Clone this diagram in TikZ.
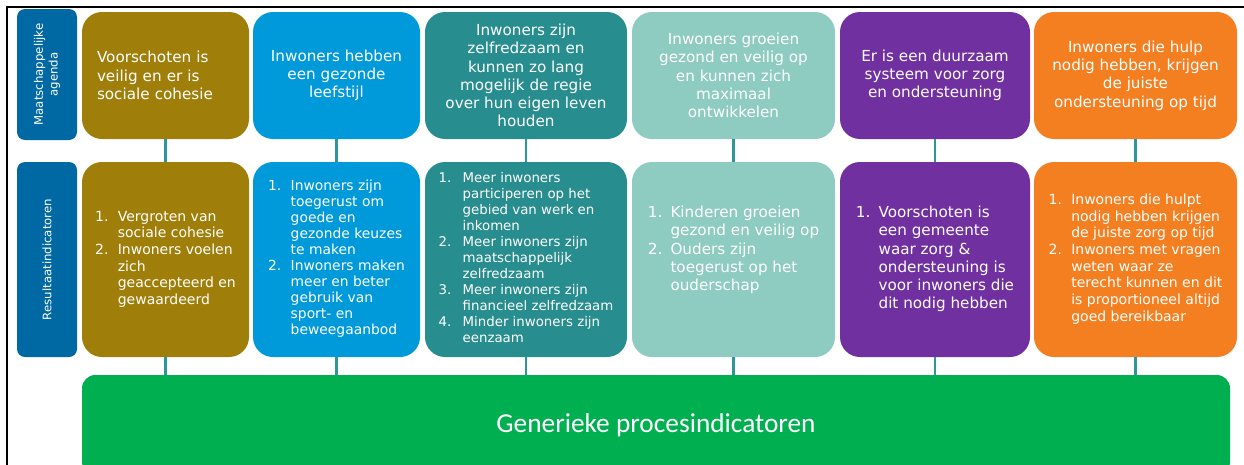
\documentclass[tikz,border=0pt]{standalone}
\usepackage{fontspec}
\setmainfont{DejaVu Sans}
\newfontfamily\calibfont{Carlito}

\definecolor{labblue}{RGB}{0,104,163}
\definecolor{goldc}{RGB}{159,127,9}
\definecolor{bluec}{RGB}{0,153,218}
\definecolor{tealc}{RGB}{40,141,142}
\definecolor{ltealc}{RGB}{142,203,192}
\definecolor{purplec}{RGB}{112,48,160}
\definecolor{orangec}{RGB}{243,127,33}
\definecolor{greenc}{RGB}{0,175,80}
\definecolor{linkc}{RGB}{45,150,156}

\newcommand{\nlist}[2][17pt]{\begin{tabular}{@{}p{#1}@{}l@{}}#2\end{tabular}}

\tikzset{
  labbox/.style={fill=labblue, rounded corners=6pt, inner sep=0pt, text=white, align=center,
    rotate=90, minimum height=45pt, font=\fontsize{8.8}{11.2}\selectfont},
  agbox/.style={rounded corners=15pt, minimum height=95.25pt, inner sep=0pt, text=white,
    align=center, font=\fontsize{11.4}{13.7}\selectfont},
  resbox/.style={rounded corners=15pt, minimum height=146.25pt, inner sep=0pt, text=white,
    font=\fontsize{10.5}{12.5}\selectfont},
  link/.style={draw=linkc, line width=2pt},
}

\begin{document}
\begin{tikzpicture}[x=0.75pt,y=0.75pt,yscale=-1,xscale=1]
\clip (0,0) rectangle (1244,464);

%Frame
\draw [line width=1.1pt] (7,470) -- (7,7) -- (1244,7);

%Row labels
\node (lab1) [labbox, minimum width=98.25pt] at (47,74.5) {Maatschappelijke\\agenda};
\node (lab2) [labbox, minimum width=146.25pt] at (47,259.5) {Resultaatindicatoren};

%Agenda row
\node (a1) [agbox, fill=goldc, minimum width=125.25pt, text width=102.75pt, align=left] at (165.5,75.5)
  {Voorschoten is\\veilig en er is\\sociale cohesie};
\node (a2) [agbox, fill=bluec, minimum width=125.25pt] at (336.5,75.5)
  {Inwoners hebben\\een gezonde\\leefstijl};
\node (a3) [agbox, fill=tealc, minimum width=151.5pt] at (526,75.5)
  {Inwoners zijn\\zelfredzaam en\\kunnen zo lang\\mogelijk de regie\\over hun eigen leven\\houden};
\node (a4) [agbox, fill=ltealc, minimum width=152.25pt] at (733.5,75.5)
  {Inwoners groeien\\gezond en veilig op\\en kunnen zich\\maximaal\\ontwikkelen};
\node (a5) [agbox, fill=purplec, minimum width=142.5pt] at (935,75.5)
  {Er is een duurzaam\\systeem voor zorg\\en ondersteuning};
\node (a6) [agbox, fill=orangec, minimum width=152.25pt] at (1135.5,75.5)
  {Inwoners die hulp\\nodig hebben, krijgen\\de juiste\\ondersteuning op tijd};

%Result row
\node (r1) [resbox, fill=goldc, minimum width=125.25pt] at (165.5,259.5)
  {\nlist{1. & Vergroten van\\ & sociale cohesie\\ 2. & Inwoners voelen\\ & zich\\ & geaccepteerd en\\ & gewaardeerd}};
\node (r2) [resbox, fill=bluec, minimum width=125.25pt, font=\fontsize{10.4}{12}\selectfont] at (336.5,259.5)
  {\nlist{1. & Inwoners zijn\\ & toegerust om\\ & goede en\\ & gezonde keuzes\\ & te maken\\
   2. & Inwoners maken\\ & meer en beter\\ & gebruik van\\ & sport- en\\ & beweegaanbod}};
\node (r3) [resbox, fill=tealc, minimum width=151.5pt, font=\fontsize{10}{12}\selectfont] at (526,259.5)
  {\nlist[18pt]{1. & Meer inwoners\\ & participeren op het\\ & gebied van werk en\\ & inkomen\\
   2. & Meer inwoners zijn\\ & maatschappelijk\\ & zelfredzaam\\
   3. & Meer inwoners zijn\\ & financieel zelfredzaam\\
   4. & Minder inwoners zijn\\ & eenzaam}};
\node (r4) [resbox, fill=ltealc, minimum width=152.25pt, font=\fontsize{11.4}{13.7}\selectfont] at (733.5,259.5)
  {\nlist{1. & Kinderen groeien\\ & gezond en veilig op\\ 2. & Ouders zijn\\ & toegerust op het\\ & ouderschap\\ & }};
\node (r5) [resbox, fill=purplec, minimum width=142.5pt, font=\fontsize{11.4}{13.7}\selectfont] at (935,259.5)
  {\nlist{1. & Voorschoten is\\ & een gemeente\\ & waar zorg \&\\ & ondersteuning is\\ & voor inwoners die\\ & dit nodig hebben}};
\node (r6) [resbox, fill=orangec, minimum width=152.25pt] at (1135.5,259.5)
  {\nlist{1. & Inwoners die hulpt\\ & nodig hebben krijgen\\ & de juiste zorg op tijd\\
   2. & Inwoners met vragen\\ & weten waar ze\\ & terecht kunnen en dit\\ & is proportioneel altijd\\ & goed bereikbaar}};

%Generic bar
\node (gen) [fill=greenc, rounded corners=10pt, minimum width=861pt, minimum height=75pt, inner sep=0pt,
  text=white, font=\calibfont\fontsize{20.5}{24}\selectfont] at (656,425) {Generieke procesindicatoren};

%Connectors
\foreach \i in {1,...,6} {
  \draw [link] (a\i) -- (r\i);
  \draw [link] (r\i) -- (r\i |- gen.north);
}

\end{tikzpicture}
\end{document}
